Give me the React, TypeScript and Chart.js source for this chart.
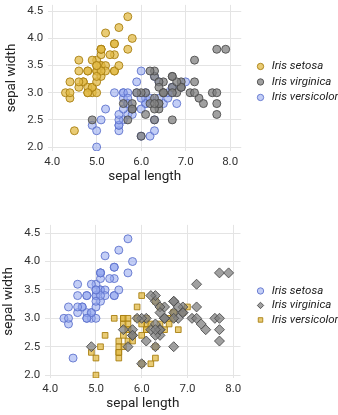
import React, { useEffect, useRef } from "react";
import { Chart, registerables } from "chart.js";

Chart.register(...registerables);

// Iris dataset: sepal length / sepal width per species
const setosaLength = [5.1,4.9,4.7,4.6,5.0,5.4,4.6,5.0,4.4,4.9,5.4,4.8,4.8,4.3,5.8,5.7,5.4,5.1,5.7,5.1,5.4,5.1,4.6,5.1,4.8,5.0,5.0,5.2,5.2,4.7,4.8,5.4,5.2,5.5,4.9,5.0,5.5,4.9,4.4,5.1,5.0,4.5,4.4,5.0,5.1,4.8,5.1,4.6,5.3,5.0];
const setosaWidth = [3.5,3.0,3.2,3.1,3.6,3.9,3.4,3.4,2.9,3.1,3.7,3.4,3.0,3.0,4.0,4.4,3.9,3.5,3.8,3.8,3.4,3.7,3.6,3.3,3.4,3.0,3.4,3.5,3.4,3.2,3.1,3.4,4.1,4.2,3.1,3.2,3.5,3.6,3.0,3.4,3.5,2.3,3.2,3.5,3.8,3.0,3.8,3.2,3.7,3.3];
const versicolorLength = [7.0,6.4,6.9,5.5,6.5,5.7,6.3,4.9,6.6,5.2,5.0,5.9,6.0,6.1,5.6,6.7,5.6,5.8,6.2,5.6,5.9,6.1,6.3,6.1,6.4,6.6,6.8,6.7,6.0,5.7,5.5,5.5,5.8,6.0,5.4,6.0,6.7,6.3,5.6,5.5,5.5,6.1,5.8,5.0,5.6,5.7,5.7,6.2,5.1,5.7];
const versicolorWidth = [3.2,3.2,3.1,2.3,2.8,2.8,3.3,2.4,2.9,2.7,2.0,3.0,2.2,2.9,2.9,3.1,3.0,2.7,2.2,2.5,3.2,2.8,2.5,2.8,2.9,3.0,2.8,3.0,2.9,2.6,2.4,2.4,2.7,2.7,3.0,3.4,3.1,2.3,3.0,2.5,2.6,3.0,2.6,2.3,2.7,3.0,2.9,2.9,2.5,2.8];
const virginicaLength = [6.3,5.8,7.1,6.3,6.5,7.6,4.9,7.3,6.7,7.2,6.5,6.4,6.8,5.7,5.8,6.4,6.5,7.7,7.7,6.0,6.9,5.6,7.7,6.3,6.7,7.2,6.2,6.1,6.4,7.2,7.4,7.9,6.4,6.3,6.1,7.7,6.3,6.4,6.0,6.9,6.7,6.9,5.8,6.8,6.7,6.7,6.3,6.5,6.2,5.9];
const virginicaWidth = [3.3,2.7,3.0,2.9,3.0,3.0,2.5,2.9,2.5,3.6,3.2,2.7,3.0,2.5,2.8,3.2,3.0,3.8,2.6,2.2,3.2,2.8,2.8,2.7,3.3,3.2,2.8,3.0,2.8,3.0,2.8,3.8,2.8,2.8,2.6,3.0,3.4,3.1,3.0,3.1,3.1,3.1,2.7,3.2,3.3,3.0,2.5,3.0,3.4,3.0];

const seriesLabels = ["Iris setosa", "Iris virginica", "Iris versicolor"];
const xTicks = [4.0, 5.0, 6.0, 7.0, 8.0];
const yTicks = [2.0, 2.5, 3.0, 3.5, 4.0, 4.5];

const YELLOW = { fill: "rgba(226,186,70,0.75)", border: "rgba(168,128,18,0.9)" };
const GREY = { fill: "rgba(128,128,128,0.75)", border: "rgba(78,78,78,0.9)" };
const BLUE = { fill: "rgba(145,165,238,0.55)", border: "rgba(95,115,205,0.9)" };

const FONT = "Roboto, 'Open Sans', sans-serif";
const LEGEND_GAP = 8;   // extra room reserved beside the legend (narrows the plot)
const LEGEND_X = 255;   // left edge of the legend markers
const LEGEND_DY = 4;

const legendPlace = {
  id: "legendPlace",
  beforeLayout(chart: any) {
    const lg = chart.legend;
    if (lg && !lg._gapPatched) {
      const f = lg.fit;
      lg.fit = function () {
        f.call(this);
        this.width += LEGEND_GAP;
      };
      lg._gapPatched = true;
    }
  },
  afterLayout(chart: any) {
    const lg = chart.legend;
    if (lg) {
      lg.left = LEGEND_X - lg.options.labels.padding;
      lg.right = lg.left + lg.width;
      lg.top += LEGEND_DY;
      lg.bottom += LEGEND_DY;
    }
  },
};

function pts(xs: number[], ys: number[]) {
  return xs.map((x, i) => ({ x, y: ys[i] }));
}

type Variant = {
  id: number;
  xMin: number;
  xMax: number;
  yMin: number;
  yMax: number;
  padLeft: number;
  padBottom: number;
  legendPad: number;
};

function makeConfig(v: Variant): any {
  const first = v.id === 1;
  const setosaColor = first ? YELLOW : BLUE;
  const versicolorColor = first ? BLUE : YELLOW;
  const ds = (label: string, data: any[], c: any, style: string, r: number) => ({
    label,
    data,
    backgroundColor: c.fill,
    borderColor: c.border,
    borderWidth: 1,
    pointStyle: style,
    pointRadius: r,
  });
  const axisTicks = {
    callback: (val: any) => Number(val).toFixed(1),
    color: "#333",
    font: { family: FONT, size: 11.5 },
  };
  return {
    type: "scatter",
    data: {
      datasets: [
        ds(seriesLabels[0], pts(setosaLength, setosaWidth), setosaColor, "circle", 4),
        ds(seriesLabels[1], pts(virginicaLength, virginicaWidth), GREY, first ? "circle" : "rectRot", first ? 4 : 5),
        ds(seriesLabels[2], pts(versicolorLength, versicolorWidth), versicolorColor, first ? "circle" : "rect", 4),
      ],
    },
    plugins: [legendPlace],
    options: {
      animation: false,
      responsive: false,
      layout: { padding: { left: v.padLeft, right: 7, top: 0, bottom: v.padBottom } },
      plugins: {
        tooltip: { enabled: false },
        legend: {
          position: "right",
          fullSize: false,
          labels: {
            usePointStyle: true,
            boxWidth: 11,
            boxHeight: 4.5,
            padding: v.legendPad,
            color: "#222",
            font: { family: FONT, size: 11.5, style: "italic" },
          },
        },
      },
      scales: {
        x: {
          type: "linear",
          min: v.xMin,
          max: v.xMax,
          afterBuildTicks: (axis: any) => {
            axis.ticks = xTicks.map((t) => ({ value: t }));
          },
          ticks: { ...axisTicks, padding: 4 },
          grid: { color: "#e4e4e4", drawTicks: false },
          border: { display: false },
          title: {
            display: true,
            text: "sepal length",
            color: "#222",
            font: { family: FONT, size: 13.5 },
            padding: { top: -4, bottom: 0 },
          },
        },
        y: {
          type: "linear",
          min: v.yMin,
          max: v.yMax,
          afterBuildTicks: (axis: any) => {
            axis.ticks = yTicks.map((t) => ({ value: t }));
          },
          ticks: { ...axisTicks, padding: 5 },
          grid: { color: "#e4e4e4", drawTicks: false },
          border: { display: false },
          title: {
            display: true,
            text: "sepal width",
            color: "#222",
            font: { family: FONT, size: 13.5 },
            padding: { top: 0, bottom: 2 },
          },
        },
      },
    },
  };
}

const variant1: Variant = { id: 1, xMin: 3.91, xMax: 8.25, yMin: 1.927, yMax: 4.617, padLeft: 4, padBottom: 5, legendPad: 4 };
const variant2: Variant = { id: 2, xMin: 3.89, xMax: 8.16, yMin: 1.949, yMax: 4.645, padLeft: 1, padBottom: 3, legendPad: 3 };

function ScatterChart({ variant, top, height }: { variant: Variant; top: number; height: number }) {
  const ref = useRef<HTMLCanvasElement | null>(null);
  useEffect(() => {
    if (!ref.current) return;
    const chart = new Chart(ref.current, makeConfig(variant));
    return () => chart.destroy();
  }, [variant]);
  return (
    <div style={{ position: "absolute", left: 0, top, width: 338, height }}>
      <canvas ref={ref} width={338} height={height} style={{ width: 338, height, display: "block" }} />
    </div>
  );
}

export default function App() {
  return (
    <div style={{ position: "absolute", left: 0, top: 0, width: 338, height: 415, overflow: "hidden", background: "#fff" }}>
      <ScatterChart variant={variant1} top={-7} height={197} />
      <ScatterChart variant={variant2} top={213} height={202} />
    </div>
  );
}
